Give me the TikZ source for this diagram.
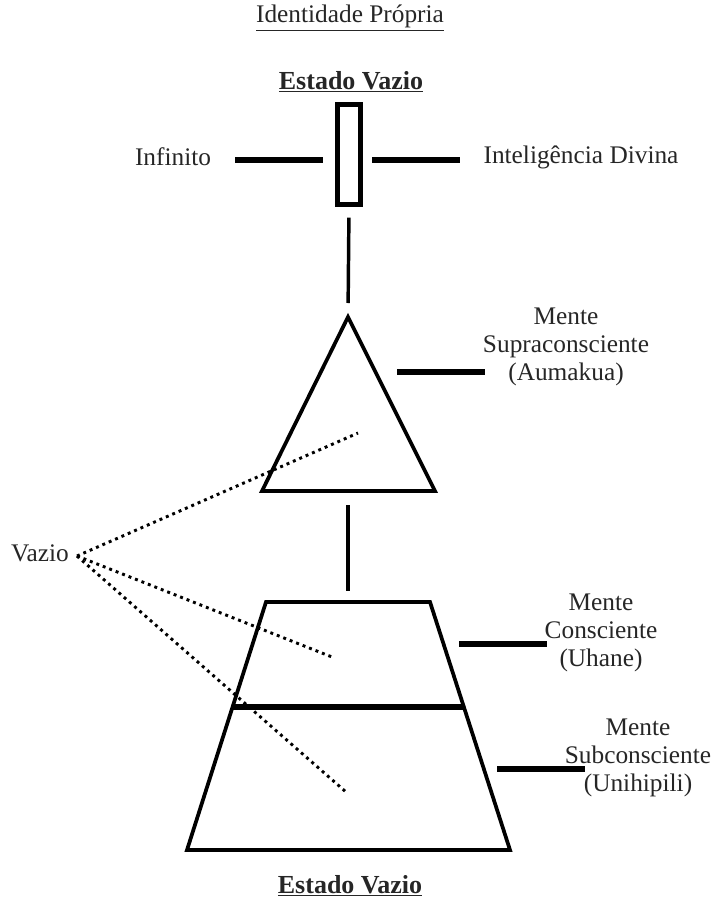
\documentclass[tikz,border=0pt]{standalone}
\usepackage{fontspec}
\setmainfont{Liberation Serif}
\usetikzlibrary{calc}
\tikzset{
    label text/.style={
           font=\fontsize{19}{21}\selectfont,
           text=black!85,
           align=center,
           inner sep=2pt,
           },
    heading/.style={label text, font=\fontsize{19.5}{22}\selectfont\bfseries},
    slot/.style={
           rectangle,
           draw=black, line width=3.6pt,
           minimum width=17pt, minimum height=75pt,
           inner sep=0pt,
           },
    outline/.style={draw=black, line width=2.8pt, line join=miter},
    bar/.style={draw=black, line width=4.2pt},
    link/.style={draw=black, line width=2.6pt},
    dots/.style={draw=black, line width=2.2pt, dash pattern=on 2.2pt off 3pt},
}
\newcommand{\EstadoVazio}{\underline{Estado Vazio}}
\newcommand{\Mente}[1]{Mente\\#1}

\begin{document}
\begin{tikzpicture}[x=0.75pt, y=-0.75pt]
      \useasboundingbox (0,0) rectangle (712,899);
      \node[label text] (ident)  at (350, 18)  {\underline{Identidade Própria}};
      \node[heading]    (vtop)   at (351, 82)  {\EstadoVazio};
      \node[slot]       (slot)   at (349,154.5) {};
      \node[label text] (inf)    at (173,157)  {Infinito};
      \node[label text] (div)    at (581,157)  {Inteligência Divina};
      \node[label text] (aum)    at (566,347)  {\Mente{Supraconsciente}\\(Aumakua)};
      \node[label text] (uha)    at (601,633)  {\Mente{Consciente}\\(Uhane)};
      \node[label text] (uni)    at (638,758)  {\Mente{Subconsciente}\\(Unihipili)};
      \node[label text] (vazio)  at (40, 553)  {Vazio};
      \node[heading]    (vbot)   at (350,886)  {\EstadoVazio};
      \coordinate (infL) at (235,160);  \coordinate (infR) at (323,160);
      \coordinate (divL) at (372,160);  \coordinate (divR) at (460,160);
      \coordinate (apex) at (348,317);
      \coordinate (tl)   at (262,491);  \coordinate (tr)   at (435,491);
      \coordinate (aumL) at (397,372);  \coordinate (aumR) at (485,372);
      \coordinate (ztl)  at (266,602);  \coordinate (ztr)  at (430,602);
      \coordinate (zbl)  at (187,850);  \coordinate (zbr)  at (510,850);
      \coordinate (zml)  at ($(ztl)!0.4234!(zbl)$);
      \coordinate (zmr)  at ($(ztr)!0.4234!(zbr)$);
      \coordinate (uhaL) at (459,644);  \coordinate (uhaR) at (547,644);
      \coordinate (uniL) at (497,769);  \coordinate (uniR) at (585,769);
      \coordinate (vz)   at (77,556);
      \coordinate (vA)   at (358,433);
      \coordinate (vB)   at (332,657);
      \coordinate (vC)   at (346,792);
      \draw[bar] (infL) -- (infR);
      \draw[bar] (divL) -- (divR);
      \draw[link, shorten <=8pt, shorten >=10.5pt] (slot.south) -- (apex);
      \draw[outline] (apex) -- (tr) -- (tl) -- cycle;
      \draw[bar] (aumL) -- (aumR);
      \draw[link, shorten <=10.5pt, shorten >=8.25pt] (tl -| apex) -- (ztl -| apex);
      \draw[outline] (ztl) -- (ztr) -- (zbr) -- (zbl) -- cycle;
      \draw[bar] (zml) -- (zmr);
      \draw[bar] (uhaL) -- (uhaR);
      \draw[bar] (uniL) -- (uniR);
      \draw[dots] (vz) -- (vA);
      \draw[dots] (vz) -- (vB);
      \draw[dots] (vz) -- (vC);
\end{tikzpicture}
\end{document}
